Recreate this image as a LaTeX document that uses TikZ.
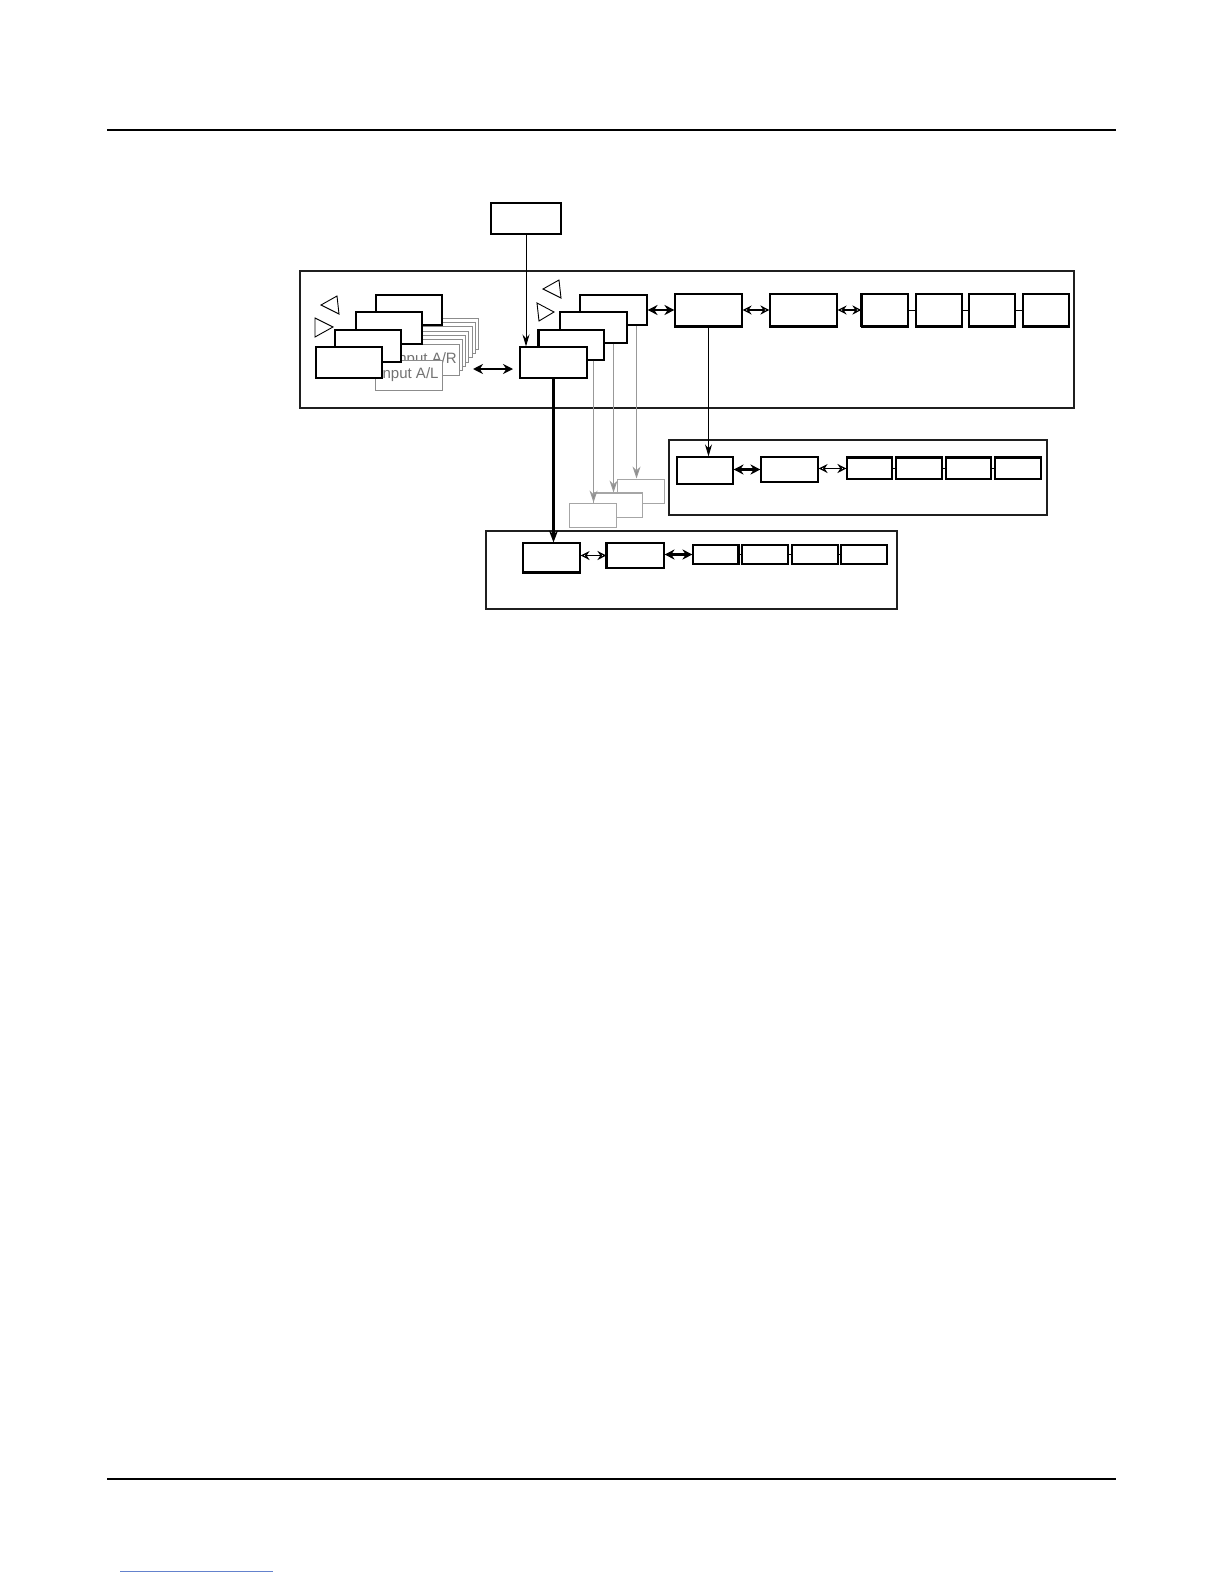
\documentclass[tikz,border=0pt]{standalone}
\usepackage{fontspec}
\setmainfont{Liberation Sans}
\usetikzlibrary{arrows.meta,fit,calc}
\newcommand\bx[6][box]{\node[#1,fit={(#3,#4) (#5,#6)}] (#2) {};}
\begin{document}
\begin{tikzpicture}[x=1pt,y=-1pt,
  box/.style={draw=black,line width=1.1pt,fill=white,inner sep=0pt},
  gbox/.style={draw=black!45,line width=1pt,fill=white,inner sep=0pt},
  lgbox/.style={draw=black!35,line width=1pt,fill=white,inner sep=0pt},
  panel/.style={draw=black!88,line width=1.2pt,inner sep=0pt},
  heavy/.style={line width=2.4pt},
  rule/.style={line width=1.4pt},
  tri/.style={line width=0.9pt},
  link/.style={line width=0.8pt,draw={rgb,255:red,100;green,130;blue,205}},
  arr/.style={line width=1pt,-{Stealth[length=12pt,width=7pt]}},
  tharr/.style={line width=2.4pt,-{Stealth[length=12pt,width=9pt]}},
  garr/.style={line width=1pt,draw=black!40,-{Stealth[length=12pt,width=8pt,fill=black!45]}},
  dbl/.style={line width=2.2pt,{Stealth[length=10pt,width=10pt]}-{Stealth[length=10pt,width=10pt]}},
  dblthin/.style={line width=1.3pt,{Stealth[length=9pt,width=9pt,open]}-{Stealth[length=9pt,width=9pt,open]}},
  link2/.style={line width=1pt},
  intext/.style={font=\fontsize{15}{17}\selectfont,text=black!55,inner sep=0pt}]
\useasboundingbox (0,0) rectangle (1224,1584);
% page rules
\coordinate (r1a) at (107,130); \coordinate (r1b) at (1116,130);
\coordinate (r2a) at (107,1479); \coordinate (r2b) at (1116,1479);
\coordinate (lk1) at (120,1571); \coordinate (lk2) at (273,1571);
\draw[rule] (r1a) -- (r1b);
\draw[rule] (r2a) -- (r2b);
\draw[link] (lk1) -- (lk2);
% panels
\bx[panel]{P1}{300}{271}{1074}{408}
\bx[panel]{P2}{669}{440}{1047}{515}
\bx[panel]{P3}{486}{531}{897}{609}
% top box
\bx{T0}{491}{203}{561}{234}
% gray stack of inputs
\foreach \i in {6,5,...,1} {
  \node[gbox,fit={({392+3.33*\i},{344-4.3*\i}) ({459+3.33*\i},{375-4.3*\i})}] (ar\i) {};
}
\bx[gbox]{ar0}{392}{344}{459}{375}
\node[intext] (artext) at (ar0.center) {Input A/R};
\bx[gbox]{al}{375}{360}{442}{390}
\node[intext] (altext) at (al.center) {Input A/L};
% left black stack
\bx{A}{376}{295}{442}{325}
\bx{B}{356}{312}{422}{344}
\bx{C}{335}{330}{401}{362}
\bx{D}{316}{347}{382}{378}
% triangles left
\draw[tri] (321,305) -- (337,296) -- (339,314) -- cycle;
\draw[tri] (315,318) -- (315,337) -- (333,327) -- cycle;
% triangles right
\draw[tri] (543,289) -- (559,280) -- (561,298) -- cycle;
\draw[tri] (537,303) -- (539,321) -- (554,312) -- cycle;
% right stack
\bx{E}{580}{295}{647}{325}
\bx{F}{560}{312}{627}{343}
\bx{G}{539}{330}{604}{360}
\draw[heavy] (G.north west) -- (G.south west);
\bx{H}{520}{347}{587}{378}
% chain panel 1
\bx{I}{675}{294}{742}{326}
\bx{J}{770}{294}{837}{326}
\bx{K}{862}{294}{908}{326}
\bx{L}{916}{294}{962}{326}
\bx{M}{969}{294}{1015}{326}
\bx{N}{1023}{294}{1069}{326}
\foreach \n in {I,J,K,L,M,N} {\draw[heavy] (\n.south west) -- (\n.south east);}
\draw[heavy] (K.north west) -- (K.south west);
% panel 2
\bx{Pp}{677}{457}{733}{484}
\bx{Q}{761}{457}{818}{482}
\bx{R}{847}{458}{892}{479}
\bx{S}{896}{458}{942}{479}
\bx{Tt}{946}{458}{991}{479}
\bx{U}{995}{458}{1041}{479}
\foreach \n in {R,S,Tt,U} {\draw[heavy] (\n.north west) -- (\n.north east);}
% panel 3
\bx{V}{523}{543}{580}{572}
\bx{W}{607}{543}{664}{568}
\bx{X}{693}{545}{738}{564}
\bx{Y}{742}{545}{788}{564}
\bx{Z}{792}{545}{838}{564}
\bx{AA}{841}{545}{887}{564}
\draw[heavy] (V.south west) -- (V.south east);
\draw[heavy] (W.north west) -- (W.south west);
\draw[heavy] (X.north east) -- (X.south east);
% gray target boxes
\bx[lgbox]{g3}{617}{479}{664}{503}
\bx[lgbox]{g2}{593}{493}{642}{517}
\draw[line width=1.8pt,draw=black!35] (g2.north west) -- (g2.north east);
\bx[lgbox]{g1}{569}{503}{616}{527}
% connectors
\coordinate (dl) at (473,369); \coordinate (dr) at (513,369);
\draw[dbl] (dl) -- (dr);
\draw[arr] (T0.south) -- (T0.south |- H.north);
\draw[tharr] (H.south) -- (H.south |- V.north);
\draw[arr] (I.south) -- (I.south |- Pp.north);
\draw[garr] ([xshift=-11pt]G.south east) -- ([xshift=-11pt]G.south east |- g1.north);
\draw[garr] ([xshift=-14pt]F.south east) -- ([xshift=-14pt]F.south east |- g2.north);
\draw[garr] ([xshift=-11pt]E.south east) -- ([xshift=-11pt]E.south east |- g3.north);
\draw[dbl] (E.east) -- (I.west);
\draw[dblthin] (I.east) -- (J.west);
\draw[dblthin] (J.east) -- (K.west);
\draw[link2] (K.east) -- (L.west);
\draw[link2] (L.east) -- (M.west);
\draw[link2] (M.east) -- (N.west);
\draw[dbl] (Pp.east |- Q.west) -- (Q.west);
\draw[dblthin] (Q.east |- R.west) -- (R.west);
\draw[link2] (R.east) -- (S.west);
\draw[link2] (S.east) -- (Tt.west);
\draw[link2] (Tt.east) -- (U.west);
\draw[dblthin] (V.east |- W.west) -- (W.west);
\draw[dbl] (W.east |- X.west) -- (X.west);
\draw[link2] (X.east) -- (Y.west);
\draw[link2] (Y.east) -- (Z.west);
\draw[link2] (Z.east) -- (AA.west);
\end{tikzpicture}
\end{document}
